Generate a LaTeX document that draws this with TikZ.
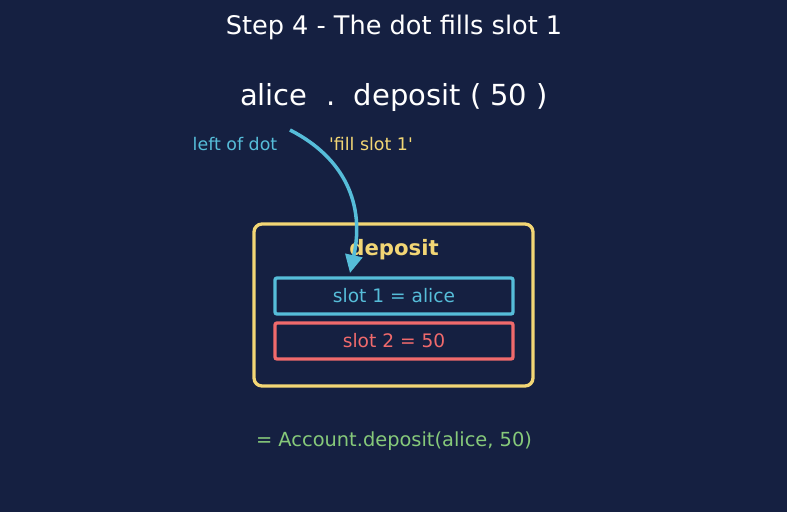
\documentclass[tikz,border=0pt]{standalone}
\usepackage{fontspec}
\setmainfont{DejaVu Sans}
\usetikzlibrary{arrows.meta}
\definecolor{bgc}{HTML}{152041}
\definecolor{cya}{HTML}{56BDD9}
\definecolor{yel}{HTML}{F2D675}
\definecolor{redc}{HTML}{F06A6C}
\definecolor{grn}{HTML}{86C97A}
\begin{document}
\begin{tikzpicture}[x=1pt,y=-1pt,
  txt/.style={inner sep=0pt,anchor=base},
  slotbox/.style={draw,line width=3.3pt,rounded corners=2pt}]
\fill[bgc] (0,0) rectangle (787,512);
\useasboundingbox (0,0) rectangle (787,512);
\node[txt,white,font=\fontsize{25.6}{29}\selectfont] (title) at (394,34) {Step 4 - The dot fills slot 1};
\node[txt,white,font=\fontsize{29}{33}\selectfont] (expr) at (394,105) {alice\ \ .\ \ deposit ( 50 )};
\node[txt,cya,font=\fontsize{17.4}{20}\selectfont] (lod) at (235,150) {left of dot};
\node[txt,yel,font=\fontsize{17.4}{20}\selectfont] (fs) at (371,150) {\textquotesingle fill slot 1\textquotesingle};
\draw[yel,line width=3.3pt,rounded corners=8pt] (254,224) rectangle (533,386);
\node[txt,yel,font=\fontsize{21.2}{24}\bfseries\selectfont] (dep) at (394,255) {deposit};
\draw[slotbox,cya] (275,278) rectangle (513,314);
\coordinate (s1top) at (350,273);
\node[txt,cya,font=\fontsize{18.6}{21}\selectfont] (s1) at (394,302) {slot 1 = alice};
\draw[slotbox,redc] (275,323) rectangle (513,359);
\node[txt,redc,font=\fontsize{18.6}{21}\selectfont] (s2) at (394,347) {slot 2 = 50};
\node[txt,grn,font=\fontsize{19.4}{22}\selectfont] (eq) at (394,446) {= Account.deposit(alice, 50)};
\coordinate (astart) at (290,130);
\draw[cya,line width=3.5pt,-{Triangle[length=18pt,width=17pt]}] (astart) .. controls (345,158) and (365,205) .. (s1top);
\end{tikzpicture}
\end{document}
